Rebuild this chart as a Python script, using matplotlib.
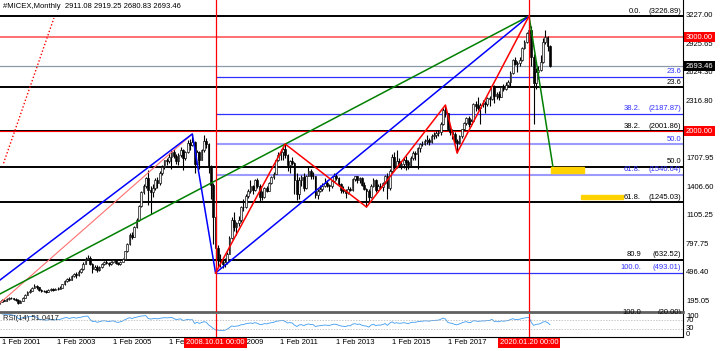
#!/usr/bin/env python3
"""MICEX monthly candles with fibo levels, trend lines and RSI(14), MT4 look."""
import matplotlib
matplotlib.use("Agg")
import matplotlib.pyplot as plt
import matplotlib.transforms as mtransforms
from matplotlib.patches import Rectangle
import numpy as np
import pandas as pd

W, H, DPI = 720, 351, 100
FONT = "Liberation Sans"
FS = 5.5

# monthly bars, Jan 2001 .. Oct 2020 (open = previous close)
first_open = 170
closes = [
    185, 205, 200, 215, 228, 222, 215, 210, 178, 195, 232, 262,
    292, 305, 335, 358, 340, 312, 305, 300, 296, 310, 322, 315,
    322, 326, 338, 372, 410, 432, 418, 462, 478, 470, 505, 532,
    592, 642, 655, 590, 540, 562, 530, 560, 592, 612, 600, 590,
    612, 626, 602, 590, 612, 645, 722, 802, 902, 880, 982, 1060,
    1205, 1352, 1420, 1505, 1380, 1350, 1400, 1480, 1450, 1560, 1620, 1690,
    1680, 1730, 1780, 1740, 1680, 1750, 1800, 1720, 1780, 1880, 1850, 1888,
    1650, 1780, 1700, 1800, 1900, 1860, 1620, 1430, 1090, 755, 640, 620,
    590, 610, 700, 870, 1060, 980, 1020, 1060, 1190, 1200, 1310, 1370,
    1420, 1380, 1480, 1420, 1300, 1305, 1400, 1370, 1450, 1510, 1550, 1690,
    1750, 1780, 1810, 1750, 1640, 1680, 1660, 1480, 1330, 1480, 1510, 1400,
    1530, 1580, 1530, 1520, 1320, 1370, 1390, 1420, 1450, 1430, 1420, 1470,
    1520, 1500, 1440, 1380, 1360, 1340, 1390, 1380, 1490, 1520, 1480, 1500,
    1430, 1390, 1370, 1300, 1420, 1480, 1380, 1420, 1410, 1450, 1520, 1400,
    1580, 1730, 1620, 1680, 1640, 1650, 1700, 1670, 1640, 1720, 1770, 1760,
    1820, 1860, 1870, 1900, 1905, 1890, 1950, 1960, 1980, 1990, 2080, 2230,
    2190, 2030, 1990, 1970, 1900, 1880, 1950, 2020, 2090, 2140, 2080, 2110,
    2290, 2270, 2250, 2280, 2300, 2295, 2350, 2345, 2480, 2380, 2400, 2370,
    2470, 2450, 2490, 2520, 2620, 2760, 2720, 2730, 2760, 2890, 2950, 3050,
    3080, 2790, 2510, 2630, 2650, 2740, 2950, 3000, 2911.08, 2693.46,
]
highs = [
    195, 215, 218, 225, 240, 235, 230, 225, 215, 205, 240, 270,
    300, 318, 345, 372, 365, 345, 325, 315, 310, 320, 332, 330,
    335, 340, 350, 380, 418, 445, 450, 470, 492, 505, 520, 545,
    605, 660, 684, 672, 600, 580, 575, 570, 602, 625, 628, 615,
    622, 640, 635, 615, 620, 655, 730, 810, 915, 925, 995, 1075,
    1215, 1365, 1440, 1514, 1590, 1420, 1440, 1500, 1510, 1575, 1640, 1700,
    1720, 1770, 1800, 1810, 1760, 1765, 1830, 1810, 1795, 1905, 1920, 1968,
    1900, 1800, 1790, 1815, 1960, 1930, 1880, 1640, 1450, 1100, 790, 700,
    640, 650, 720, 890, 1090, 1140, 1040, 1100, 1210, 1275, 1330, 1390,
    1480, 1430, 1495, 1500, 1440, 1360, 1410, 1420, 1460, 1530, 1570, 1700,
    1780, 1810, 1830, 1865, 1760, 1700, 1730, 1670, 1560, 1510, 1540, 1560,
    1540, 1620, 1600, 1570, 1530, 1390, 1430, 1450, 1500, 1480, 1440, 1480,
    1560, 1555, 1510, 1450, 1420, 1390, 1420, 1410, 1500, 1530, 1530, 1510,
    1510, 1460, 1400, 1390, 1440, 1500, 1490, 1440, 1450, 1460, 1540, 1560,
    1600, 1760, 1780, 1800, 1720, 1680, 1720, 1740, 1700, 1740, 1790, 1790,
    1830, 1880, 1900, 1920, 1960, 1930, 1970, 1990, 2000, 2010, 2100, 2250,
    2280, 2200, 2060, 2020, 1990, 1920, 1960, 2030, 2100, 2150, 2160, 2130,
    2300, 2320, 2365, 2300, 2330, 2320, 2370, 2380, 2490, 2495, 2420, 2430,
    2480, 2500, 2520, 2550, 2640, 2770, 2790, 2750, 2790, 2900, 2970, 3060,
    3226.89, 3120, 2820, 2670, 2700, 2810, 2990, 3078, 3010, 2919.25,
]
lows = [
    165, 180, 190, 195, 208, 212, 205, 200, 165, 172, 190, 228,
    258, 285, 300, 330, 325, 300, 290, 290, 285, 290, 305, 305,
    310, 315, 318, 335, 368, 402, 405, 415, 455, 440, 462, 495,
    528, 585, 630, 575, 495, 520, 505, 515, 548, 580, 585, 565,
    575, 600, 590, 575, 580, 605, 640, 715, 795, 850, 875, 970,
    1050, 1195, 1330, 1400, 1220, 1120, 1300, 1380, 1400, 1430, 1540, 1600,
    1640, 1660, 1600, 1720, 1650, 1640, 1730, 1590, 1700, 1770, 1800, 1840,
    1560, 1620, 1600, 1690, 1780, 1820, 1560, 1280, 800, 493.01, 560, 555,
    545, 560, 590, 690, 860, 940, 900, 990, 1040, 1150, 1180, 1290,
    1340, 1330, 1370, 1400, 1250, 1270, 1290, 1350, 1365, 1440, 1490, 1545,
    1680, 1700, 1700, 1720, 1580, 1560, 1640, 1330, 1270, 1280, 1420, 1370,
    1390, 1520, 1490, 1490, 1290, 1280, 1350, 1370, 1410, 1410, 1360, 1400,
    1460, 1480, 1420, 1340, 1340, 1290, 1330, 1360, 1370, 1470, 1450, 1450,
    1420, 1380, 1195, 1260, 1290, 1410, 1350, 1360, 1390, 1370, 1440, 1280,
    1380, 1560, 1600, 1610, 1620, 1600, 1610, 1590, 1600, 1630, 1700, 1700,
    1600, 1780, 1840, 1850, 1870, 1850, 1880, 1920, 1930, 1950, 1960, 2070,
    2150, 2010, 1960, 1920, 1880, 1770, 1860, 1930, 2010, 2070, 2050, 2060,
    2100, 2220, 2230, 2080, 2260, 2200, 2270, 2270, 2330, 2300, 2340, 2330,
    2360, 2430, 2440, 2470, 2480, 2610, 2710, 2630, 2700, 2750, 2880, 2940,
    3030, 2700, 2073, 2450, 2560, 2640, 2730, 2930, 2850, 2680.83,
]

price_ticks = [3227.00, 2925.65, 2624.30, 2316.80, 1707.95, 1406.60,
               1105.25, 797.75, 496.40, 195.05]
date_years = [2001, 2003, 2005, 2007, 2009, 2011, 2013, 2015, 2017]

# fibo grid 3226.89 -> 20.00 (black, full width)
black_names = ["0.0.", "23.6", "38.2.", "50.0", "61.8.", "80.9", "100.0"]
black_levels = [3226.89, 2470.10, 2001.86, 1623.40, 1245.03, 632.52, 20.00]
black_tags = ["(3226.89)", None, "(2001.86)", None, "(1245.03)", "(632.52)", "(20.00)"]
# fibo grid 3226.89 -> 493.01 (blue, from Oct 2008)
blue_names = ["23.6", "38.2.", "50.0", "61.8.", "100.0."]
blue_levels = [2581.70, 2187.87, 1860.00, 1540.64, 493.01]
blue_tags = [None, "(2187.87)", None, "(1540.64)", "(493.01)"]

# trend lines, (bar index, price)
blue_x, blue_y = [0, 83, 93, 228], [415, 1972, 493.01, 3226.89]
red_x, red_y = [93, 123, 158, 192, 197, 228], [493.01, 1865, 1195, 2280, 1770, 3226.89]
green_x, green_y = [0, 228, 238.3], [268, 3226.89, 1621]
thin_x, thin_y = [0, 83], [170, 1972]
dot_x, dot_y = [1.7, 23.4], [1660, 3205]
vline_bars = [93, 228]
vline_text = ["2008.10.01 00:00", "2020.01.20 00:00"]
yellow_boxes = [(237.5, 251.7, 1557, 1621), (250.4, 268.5, 1280, 1323)]

X0, X1 = 0.18, 294.3
Y0, Y1 = 78.1, 3397.2
PLOT_R = 683


def rect(x0, y0, x1, y1):
    return [x0 / W, 1 - y1 / H, (x1 - x0) / W, (y1 - y0) / H]


def rsi(values, period=14):
    s = pd.Series(values, dtype=float)
    d = s.diff()
    up = d.clip(lower=0).ewm(alpha=1 / period, adjust=False).mean()
    dn = (-d.clip(upper=0)).ewm(alpha=1 / period, adjust=False).mean()
    return (100 - 100 / (1 + up / dn)).to_numpy()


def main():
    plt.rcParams["font.family"] = [FONT, "DejaVu Sans"]
    fig = plt.figure(figsize=(W / DPI, H / DPI), dpi=DPI)
    fig.patch.set_facecolor("white")
    ax = fig.add_axes(rect(0, 0, PLOT_R, 312))
    ar = fig.add_axes(rect(0, 314, PLOT_R, 337))

    n = len(closes)
    idx = np.arange(n)
    c = np.array(closes)
    o = np.concatenate([[first_open], c[:-1]])
    hi = np.array(highs)
    lo = np.array(lows)

    # horizontal levels
    for lvl in black_levels:
        ax.axhline(lvl, color="black", lw=1.4, zorder=1)
    ax.axhline(3000, color="#ff7070", lw=1.4, zorder=1)
    ax.axhline(2000, color="red", lw=0.8, zorder=1)
    ax.axhline(closes[-1], color="#8a9aaa", lw=0.9, zorder=1)
    for name, lvl in zip(blue_names, blue_levels):
        light = name.startswith("50") or name.startswith("61")
        ax.hlines(lvl, 93, X1, color="#9a9aff" if light else "#3030ff",
                  lw=1.5 if light else 0.9, zorder=1)

    # candles
    ax.vlines(idx, lo, hi, color="black", lw=0.8, zorder=3)
    up = c >= o
    body_lo = np.minimum(o, c)
    body_h = np.maximum(np.abs(c - o), 4)
    ax.bar(idx[up], body_h[up], bottom=body_lo[up], width=0.75, color="#f0f0f0",
           edgecolor="black", linewidth=0.45, zorder=4)
    ax.bar(idx[~up], body_h[~up], bottom=body_lo[~up], width=0.75, color="black",
           edgecolor="black", linewidth=0.45, zorder=4)

    # trend lines
    ax.plot(thin_x, thin_y, color="#ff7070", lw=0.8, zorder=5)
    ax.plot(dot_x, dot_y, color="red", lw=1.0, ls=(0, (1, 1.5)), zorder=5)
    ax.plot(green_x, green_y, color="green", lw=1.1, zorder=5)
    ax.plot(blue_x, blue_y, color="blue", lw=1.1, zorder=5)
    ax.plot(red_x, red_y, color="red", lw=1.1, zorder=5)
    for xa, xb, ya, yb in yellow_boxes:
        ax.add_patch(Rectangle((xa, ya), xb - xa, yb - ya, color="#ffd200", zorder=6))
    for b in vline_bars:
        ax.axvline(b, color="red", lw=0.9, zorder=6)
        ar.axvline(b, color="red", lw=0.9, zorder=6)

    ax.set_xlim(X0, X1)
    ax.set_ylim(Y0, Y1)

    # fibo labels
    lab = mtransforms.blended_transform_factory(ax.transAxes, ax.transData)
    lab = mtransforms.offset_copy(lab, fig=fig, y=1.5, units="dots")

    def fib_text(name, lvl, tag, col):
        if tag is None:
            ax.text(681 / PLOT_R, lvl, name, color=col, fontsize=FS, ha="right",
                    va="bottom", transform=lab, zorder=7)
        else:
            ax.text(641 / PLOT_R, lvl, name, color=col, fontsize=FS, ha="right",
                    va="bottom", transform=lab, zorder=7)
            ax.text(681 / PLOT_R, lvl, tag, color=col, fontsize=FS, ha="right",
                    va="bottom", transform=lab, zorder=7)

    for name, lvl, tag in zip(black_names, black_levels, black_tags):
        fib_text(name, lvl, tag, "black")
    for name, lvl, tag in zip(blue_names, blue_levels, blue_tags):
        fib_text(name, lvl, tag, "#3030ff")

    ax.text(3 / PLOT_R, 1 - 7 / 312, "#MICEX,Monthly  %.2f %.2f %.2f %.2f"
            % (o[-1], hi[-1], lo[-1], c[-1]), transform=ax.transAxes,
            fontsize=FS, va="center", ha="left", color="black")

    # price scale
    rt = mtransforms.blended_transform_factory(fig.transFigure, ax.transData)
    for p in price_ticks:
        fig.text(686 / W, p, "%.2f" % p, transform=rt, fontsize=FS, va="center")
    box = dict(boxstyle="square,pad=0.2", ec="none")
    fig.text(686 / W, 3000, "3000.00", transform=rt, fontsize=FS, va="center",
             color="white", bbox=dict(box, fc="red"))
    fig.text(686 / W, 2000, "2000.00", transform=rt, fontsize=FS, va="center",
             color="white", bbox=dict(box, fc="red"))
    fig.text(686 / W, closes[-1], "%.2f" % closes[-1], transform=rt, fontsize=FS,
             va="center", color="white", bbox=dict(box, fc="black"))

    # RSI panel
    r = rsi(closes)
    ar.plot(idx, r, color="#3d9bf0", lw=0.6)
    for lvl in (70, 30):
        ar.axhline(lvl, color="#b0b0b0", lw=0.5, ls=(0, (2, 2)))
    ar.set_xlim(X0, X1)
    ar.set_ylim(-5, 99.5)
    ar.text(3 / PLOT_R, 0.82, "RSI(14) 51.0417", transform=ar.transAxes,
            fontsize=FS, va="center", color="#202020")
    for t, py in (("100", 317), ("70", 321), ("30", 329), ("0", 334)):
        fig.text(686 / W, 1 - py / H, t, fontsize=FS, va="center")

    # date axis
    dt = mtransforms.blended_transform_factory(ar.transData, fig.transFigure)
    for y in date_years:
        ar.text((y - 2001) * 12 + 1 - 0.1, 1 - 343 / H, "1 Feb %d" % y,
                transform=dt, fontsize=FS, va="center", ha="left", clip_on=False)
    for b, t in zip(vline_bars, vline_text):
        ar.text(b, 1 - 343 / H, t, transform=dt, fontsize=FS, va="center",
                ha="center", color="white", zorder=10, clip_on=False,
                bbox=dict(boxstyle="square,pad=0.25", fc="red", ec="none"))

    for a in (ax, ar):
        a.set_xticks([])
        a.set_yticks([])
        a.spines["left"].set_visible(False)
        a.spines["top"].set_visible(False)
        a.spines["right"].set_color("black")
        a.spines["right"].set_linewidth(0.8)
    ax.spines["bottom"].set_color("#606060")
    ax.spines["bottom"].set_linewidth(2.0)
    ar.spines["bottom"].set_color("black")
    ar.spines["bottom"].set_linewidth(0.8)

    fig.savefig("out.png", dpi=DPI, facecolor="white")
    plt.close(fig)


if __name__ == "__main__":
    main()
